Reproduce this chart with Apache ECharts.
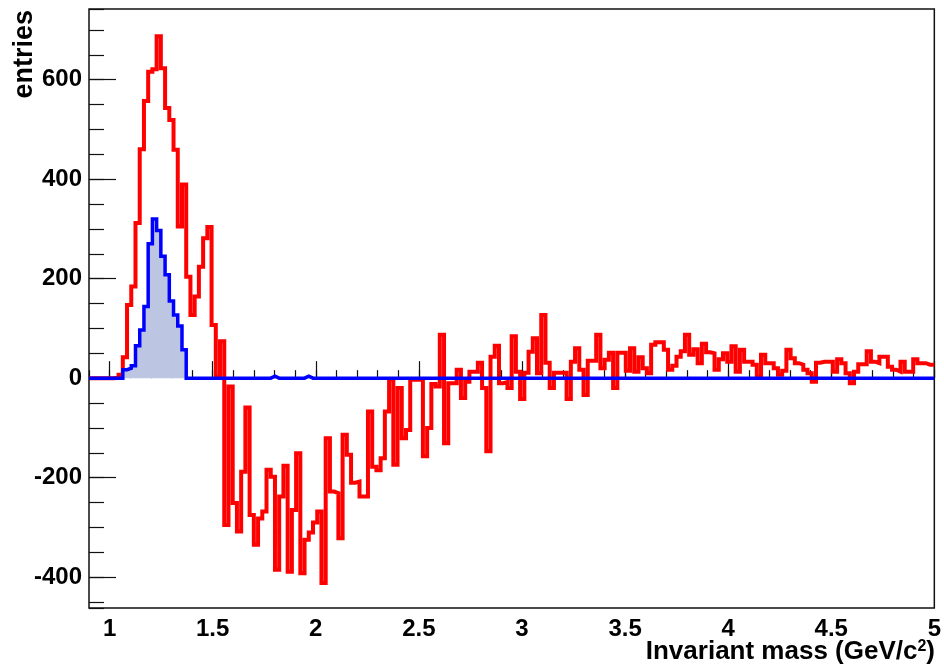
<!DOCTYPE html>
<html>
<head>
<meta charset="utf-8">
<script src="https://cdn.jsdelivr.net/npm/echarts@6/dist/echarts.min.js"></script>
<style>
  html, body { margin: 0; padding: 0; background: #fff; }
  #main { width: 944px; height: 672px; }
</style>
</head>
<body>
<div id="main"></div>
<script>
// histogram binning: 200 bins from 0.9 to 5.0 GeV/c^2
const binLow = 0.9;
const binWidth = 0.0205;

// red histogram (entries per bin)
const redCounts = [
  0, 0, 0, 0, 0, 0, 2, 7, 42, 147,
  184, 312, 460, 557, 616, 621, 687, 623, 543, 519,
  459, 305, 389, 204, 127, 164, 224, 281, 304, 107,
  3, 74, -295, -17, -251, -308, -188, -59, -275, -335,
  -282, -268, -184, -198, -385, -238, -176, -389, -265, -151,
  -392, -325, -310, -290, -268, -412, -121, -228, -231, -322,
  -114, -154, -210, -208, -238, -238, -67, -178, -185, -161,
  -67, -2, -174, -20, -121, -104, -3, -3, -3, -157,
  -100, -12, -17, 87, -131, -10, -10, 17, -40, -7,
  13, 13, 31, -20, -147, 43, 65, -10, -8, -20,
  84, 13, -42, 11, 53, 80, 10, 127, 31, -20,
  11, 11, 11, -42, 33, 60, 17, -34, 35, 35,
  87, 20, 37, 51, -20, 51, 51, 15, 60, 13,
  42, 20, 10, 67, 72, 72, 57, 17, 25, 43,
  54, 87, 47, 58, 30, 69, 52, 50, 17, 38,
  50, 33, 64, 13, 57, 33, 33, 27, 3, 47,
  30, 30, 20, 7, 15, 57, 40, 30, 27, 17,
  10, -7, 31, 33, 33, 33, 13, 38, 30, 10,
  -10, 13, 28, 28, 54, 33, 30, 43, 43, 23,
  17, 13, 33, 13, 13, 38, 30, 30, 27, 27
];

// blue histogram (entries per bin)
const blueCounts = [
  0, 0, 0, 0, 0, 0, 0, 0, 17, 20,
  25, 65, 97, 144, 270, 320, 297, 245, 208, 155,
  127, 105, 57, 0, 0, 0, 0, 0, 0, 0,
  0, 0, 0, 0, 0, 0, 0, 0, 0, 0,
  0, 0, 0, 4, 0, 0, 0, 0, 0, 0,
  0, 4, 0, 0, 0, 0, 0, 0, 0, 0,
  0, 0, 0, 0, 0, 0, 0, 0, 0, 0,
  0, 0, 0, 0, 0, 0, 0, 0, 0, 0,
  0, 0, 0, 0, 0, 0, 0, 0, 0, 0,
  0, 0, 0, 0, 0, 0, 0, 0, 0, 0,
  0, 0, 0, 0, 0, 0, 0, 0, 0, 0,
  0, 0, 0, 0, 0, 0, 0, 0, 0, 0,
  0, 0, 0, 0, 0, 0, 0, 0, 0, 0,
  0, 0, 0, 0, 0, 0, 0, 0, 0, 0,
  0, 0, 0, 0, 0, 0, 0, 0, 0, 0,
  0, 0, 0, 0, 0, 0, 0, 0, 0, 0,
  0, 0, 0, 0, 0, 0, 0, 0, 0, 0,
  0, 0, 0, 0, 0, 0, 0, 0, 0, 0,
  0, 0, 0, 0, 0, 0, 0, 0, 0, 0,
  0, 0, 0, 0, 0, 0, 0, 0, 0, 0
];

const xMin = 0.9, xMax = 5.0;
const yMin = -462, yMax = 742;

// bin low edges + closing point, drawn as steps
function toSteps(counts) {
  const pts = counts.map((v, i) => [+(binLow + i * binWidth).toFixed(4), v]);
  pts.push([+(binLow + counts.length * binWidth).toFixed(4), counts[counts.length - 1]]);
  return pts;
}

const FONT = "'Liberation Sans', Arial, Helvetica, sans-serif";
const labelStyle = { fontFamily: FONT, fontWeight: 'bold', fontSize: 24, color: '#000' };

const option = {
  animation: false,
  grid: {
    left: 89, top: 9, width: 848, height: 599,
    show: true, borderColor: '#111', borderWidth: 1.5, backgroundColor: '#fff'
  },
  xAxis: [
    {
      type: 'value', min: xMin, max: xMax, splitNumber: 8,
      axisLine: { show: false },
      axisTick: { inside: true, length: 17, lineStyle: { color: '#111', width: 1.2 } },
      splitLine: { show: false },
      axisLabel: Object.assign({ margin: 9, showMinLabel: false, showMaxLabel: true }, labelStyle)
    },
    {
      type: 'value', min: xMin, max: xMax, splitNumber: 41, position: 'bottom',
      axisLine: { show: false },
      axisTick: { inside: true, length: 8, lineStyle: { color: '#111', width: 1.2 } },
      splitLine: { show: false },
      axisLabel: { show: false }
    }
  ],
  yAxis: [
    {
      type: 'value', min: yMin, max: yMax, splitNumber: 6,
      axisLine: { show: false },
      axisTick: { inside: true, length: 27, lineStyle: { color: '#111', width: 1.2 } },
      splitLine: { show: false },
      axisLabel: Object.assign({ margin: 7, showMinLabel: false, showMaxLabel: false }, labelStyle)
    },
    {
      type: 'value', min: yMin, max: yMax, splitNumber: 24, position: 'left',
      axisLine: { show: false },
      axisTick: { inside: true, length: 15, lineStyle: { color: '#111', width: 1.2 } },
      splitLine: { show: false },
      axisLabel: { show: false }
    }
  ],
  series: [
    {
      name: 'red', type: 'line', step: 'end', data: toSteps(redCounts),
      xAxisIndex: 0, yAxisIndex: 0,
      showSymbol: false, symbol: 'none',
      lineStyle: { color: '#ff0000', width: 4, join: 'miter', cap: 'butt' },
      z: 2
    },
    {
      name: 'blue', type: 'line', step: 'end', data: toSteps(blueCounts),
      xAxisIndex: 0, yAxisIndex: 0,
      showSymbol: false, symbol: 'none',
      lineStyle: { color: '#0000ff', width: 3.5, join: 'miter', cap: 'butt' },
      areaStyle: { color: '#bcc6e2', opacity: 1 },
      z: 3
    }
  ],
  graphic: [
    {
      type: 'text', x: 11, y: 10, rotation: Math.PI / 2,
      style: {
        text: 'entries', fill: '#000',
        fontFamily: FONT, fontWeight: 'bold', fontSize: 27,
        align: 'right', verticalAlign: 'top'
      }
    },
    {
      type: 'text', x: 935, y: 639,
      style: {
        text: 'Invariant mass (GeV/c{s|2})', fill: '#000',
        fontFamily: FONT, fontWeight: 'bold', fontSize: 26,
        align: 'right', verticalAlign: 'top',
        rich: {
          s: { fontFamily: FONT, fontWeight: 'bold', fontSize: 16, verticalAlign: 'top', fill: '#000' }
        }
      }
    }
  ]
};

const chart = echarts.init(document.getElementById('main'));
chart.setOption(option);
</script>
</body>
</html>
